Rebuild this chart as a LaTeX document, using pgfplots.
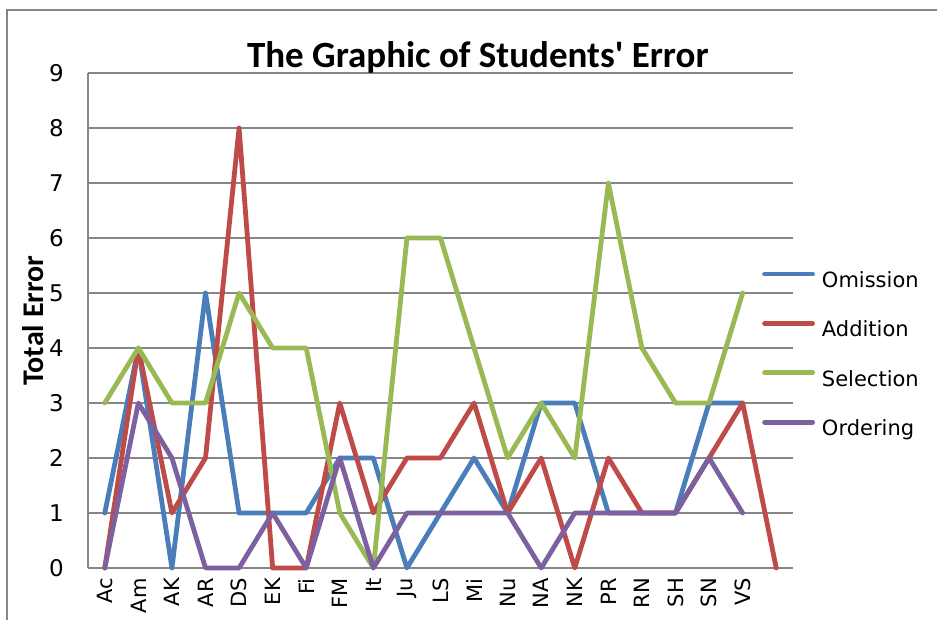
\documentclass[border=0pt]{standalone}
\usepackage{pgfplots}
\pgfplotsset{compat=1.18}
\usepackage{fontspec}
\setmainfont{DejaVu Sans}
\newfontfamily\calib{Carlito}
\definecolor{omi}{HTML}{4A7EBB}
\definecolor{add}{HTML}{BE4B48}
\definecolor{sel}{HTML}{98B954}
\definecolor{ord}{HTML}{7D60A0}
\definecolor{gridc}{HTML}{868686}
\begin{document}
\begin{tikzpicture}
\path[use as bounding box] (0,0) rectangle (937pt,620pt);
\draw[gridc, line width=1.2pt] (7pt,0) -- (7pt,610pt) -- (937pt,610pt);
\begin{axis}[
  at={(88pt,52pt)}, anchor=south west,
  scale only axis, width=705pt, height=495pt,
  xmin=-0.5, xmax=20.5, ymin=0, ymax=9,
  clip=false,
  xtick={0,...,19},
  xticklabels={Ac,Am,AK,AR,DS,EK,Fi,FM,It,Ju,LS,Mi,Nu,NA,NK,PR,RN,SH,SN,VS},
  ytick={0,...,9},
  /pgf/number format/assume math mode=true,
  major tick length=0pt,
  xticklabel style={rotate=90, anchor=east, inner sep=0pt, font=\fontsize{21}{21}\selectfont},
  xticklabel shift=10pt,
  yticklabel style={anchor=east, inner sep=0pt, font=\fontsize{23}{23}\selectfont},
  yticklabel shift=24pt,
  ymajorgrids,
  grid style={gridc, line width=1.3pt},
  axis x line*=bottom, axis y line*=left,
  axis line style={gridc, line width=1.3pt, -},
  ylabel={Total Error},
  every axis y label/.style={at={(axis description cs:-0.078,0.5)}, rotate=90, anchor=center, font=\calib\bfseries\fontsize{30}{30}\selectfont},
  title={The Graphic of Students' Error},
  every axis title/.style={at={(axis description cs:0.553,1.012)}, anchor=base, font=\calib\bfseries\fontsize{37}{37}\selectfont},
  legend style={at={(axis description cs:0.956,0.429)}, anchor=west, draw=none, fill=none, inner sep=0pt,
    font=\fontsize{21}{21}\selectfont, row sep=29.5pt, column sep=7pt,
    nodes={inner sep=0pt, text height=15.5pt, text depth=4pt, anchor=west}},
  legend cell align=left,
  legend image code/.code={\draw[line width=4.8pt, line cap=round] (2.5pt,7.7pt) -- (50.5pt,7.7pt);},
  every axis plot/.append style={line width=4.8pt, line join=round, line cap=round, mark=none},
]
\addplot[omi] coordinates {(0,1)(1,4)(2,0)(3,5)(4,1)(5,1)(6,1)(7,2)(8,2)(9,0)(10,1)(11,2)(12,1)(13,3)(14,3)(15,1)(16,1)(17,1)(18,3)(19,3)};
\addplot[add] coordinates {(0,0)(1,4)(2,1)(3,2)(4,8)(5,0)(6,0)(7,3)(8,1)(9,2)(10,2)(11,3)(12,1)(13,2)(14,0)(15,2)(16,1)(17,1)(18,2)(19,3)(20,0)};
\addplot[sel] coordinates {(0,3)(1,4)(2,3)(3,3)(4,5)(5,4)(6,4)(7,1)(8,0)(9,6)(10,6)(11,4)(12,2)(13,3)(14,2)(15,7)(16,4)(17,3)(18,3)(19,5)};
\addplot[ord] coordinates {(0,0)(1,3)(2,2)(3,0)(4,0)(5,1)(6,0)(7,2)(8,0)(9,1)(10,1)(11,1)(12,1)(13,0)(14,1)(15,1)(16,1)(17,1)(18,2)(19,1)};
\legend{Omission,Addition,Selection,Ordering}
\end{axis}
\end{tikzpicture}
\end{document}
